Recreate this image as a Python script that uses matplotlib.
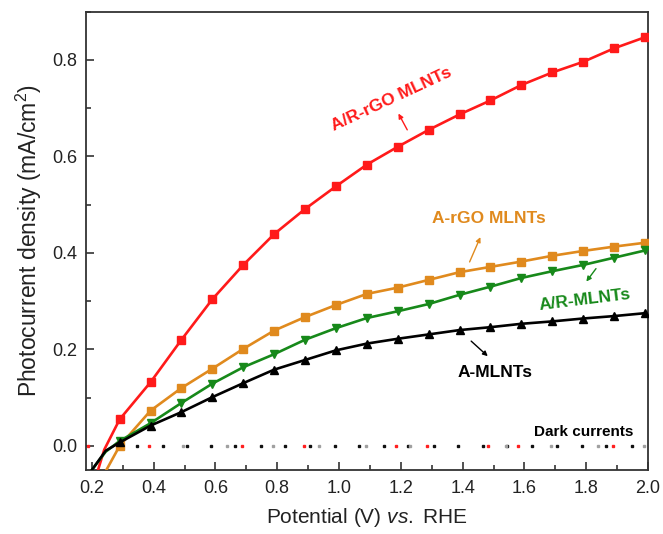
import numpy as np
import matplotlib
matplotlib.use("Agg")
import matplotlib.pyplot as plt
from matplotlib.ticker import MultipleLocator

plt.rcParams['font.family'] = ['Liberation Sans', 'DejaVu Sans']
plt.rcParams['mathtext.fontset'] = 'custom'
plt.rcParams['mathtext.rm'] = 'Liberation Sans'
plt.rcParams['mathtext.it'] = 'Liberation Sans:italic'

# DATA
potential = [0.29, 0.39, 0.49, 0.59, 0.69, 0.79, 0.89, 0.99, 1.09,
             1.19, 1.29, 1.39, 1.49, 1.59, 1.69, 1.79, 1.89, 1.99]

ar_rgo = [0.055, 0.132, 0.220, 0.304, 0.375, 0.439, 0.491, 0.538, 0.583,
          0.620, 0.655, 0.687, 0.716, 0.748, 0.774, 0.796, 0.824, 0.847]
a_rgo = [0.000, 0.073, 0.120, 0.160, 0.201, 0.239, 0.267, 0.292, 0.315,
         0.328, 0.344, 0.360, 0.371, 0.382, 0.394, 0.404, 0.413, 0.421]
ar = [0.010, 0.047, 0.089, 0.129, 0.163, 0.190, 0.220, 0.244, 0.265,
      0.279, 0.294, 0.313, 0.330, 0.348, 0.362, 0.375, 0.390, 0.405]
a = [0.007, 0.042, 0.070, 0.101, 0.130, 0.158, 0.178, 0.198, 0.212,
     0.222, 0.231, 0.240, 0.246, 0.253, 0.258, 0.264, 0.269, 0.275]

# onset of each curve (line only, runs below the axis)
onset_x = {"ar_rgo": [0.22, 0.24], "a_rgo": [0.247], "ar": [0.20, 0.245], "a": [0.20, 0.245]}
onset_y = {"ar_rgo": [-0.05, -0.008], "a_rgo": [-0.05], "ar": [-0.05, -0.012], "a": [-0.05, -0.01]}

# dark current points (all ~0)
dark_black = [0.346, 0.430, 0.507, 0.586, 0.664, 0.747, 0.825, 0.906, 0.986, 1.066, 1.145,
              1.223, 1.306, 1.386, 1.465, 1.545, 1.625, 1.706, 1.786, 1.865, 1.947]
dark_gray = [0.494, 0.636, 0.787, 0.935, 1.086, 1.231, 1.539, 1.685, 1.838, 1.986]
dark_red = [0.188, 0.385, 0.686, 0.887, 1.185, 1.286, 1.483, 1.580, 1.886]

RED = "#ff1a1a"
ORANGE = "#e08a1e"
GREEN = "#17891a"
BLACK = "#000000"

fig = plt.figure(figsize=(6.63, 5.34), dpi=100)
ax = fig.add_axes([0.1297, 0.1199, 0.8477, 0.8582])

series = [
    ("ar_rgo", ar_rgo, RED, "s"),
    ("a_rgo", a_rgo, ORANGE, "s"),
    ("ar", ar, GREEN, "v"),
    ("a", a, BLACK, "^"),
]
for key, vals, col, mk in series:
    xs = onset_x[key] + potential
    ys = onset_y[key] + vals
    n0 = len(onset_x[key])
    ax.plot(xs, ys, color=col, lw=1.9, marker=mk, ms=6.3,
            markevery=list(range(n0, len(xs))), zorder=3)

ax.plot(dark_black, np.zeros(len(dark_black)), ls="none", marker="s", ms=2.1, color="#111111")
ax.plot(dark_gray, np.zeros(len(dark_gray)), ls="none", marker="s", ms=2.1, color="#a0a0a0")
ax.plot(dark_red, np.zeros(len(dark_red)), ls="none", marker="s", ms=2.1, color="#ff2020")

# annotations
def label(txt, xy, col, rot=0, size=12.5):
    ax.text(xy[0], xy[1], txt, color=col, fontsize=size, fontweight="bold",
            ha="center", va="center", rotation=rot)

label("A/R-rGO MLNTs", (1.171, 0.718), RED, rot=25)
ax.annotate("", xy=(1.188, 0.694), xytext=(1.225, 0.650),
            arrowprops=dict(arrowstyle="-|>", color=RED, lw=1, mutation_scale=7))
label("A-rGO MLNTs", (1.486, 0.471), ORANGE)
ax.annotate("", xy=(1.461, 0.438), xytext=(1.419, 0.376),
            arrowprops=dict(arrowstyle="-|>", color=ORANGE, lw=1, mutation_scale=7))
label("A/R-MLNTs", (1.797, 0.303), GREEN, rot=7)
ax.annotate("", xy=(1.795, 0.336), xytext=(1.837, 0.372),
            arrowprops=dict(arrowstyle="-|>", color=GREEN, lw=1, mutation_scale=7))
label("A-MLNTs", (1.505, 0.152), BLACK)
ax.annotate("", xy=(1.488, 0.182), xytext=(1.421, 0.221),
            arrowprops=dict(arrowstyle="-|>", color=BLACK, lw=1, mutation_scale=7))
label("Dark currents", (1.793, 0.028), BLACK, size=11)

ax.set_xlim(0.181, 2.0)
ax.set_ylim(-0.05, 0.9)
ax.xaxis.set_major_locator(MultipleLocator(0.2))
ax.xaxis.set_minor_locator(MultipleLocator(0.1))
ax.yaxis.set_major_locator(MultipleLocator(0.2))
ax.yaxis.set_minor_locator(MultipleLocator(0.1))
ax.tick_params(which="both", direction="in", top=False, right=False, width=1.2, color="#333333")
ax.tick_params(which="major", length=6, labelsize=13, labelcolor="#222222")
ax.tick_params(axis="x", which="major", pad=7)
ax.tick_params(axis="y", which="major", pad=6)
ax.tick_params(which="minor", length=3.5)
for s in ax.spines.values():
    s.set_linewidth(1.3)
    s.set_color("#333333")

ax.set_xlabel("Potential (V) $\\it{vs.}$ RHE", fontsize=15, labelpad=7, color="#222222")
ax.set_ylabel("Photocurrent density (mA/cm$^2$)", fontsize=16.5, labelpad=6, color="#222222")

fig.savefig("out.png", dpi=100)
